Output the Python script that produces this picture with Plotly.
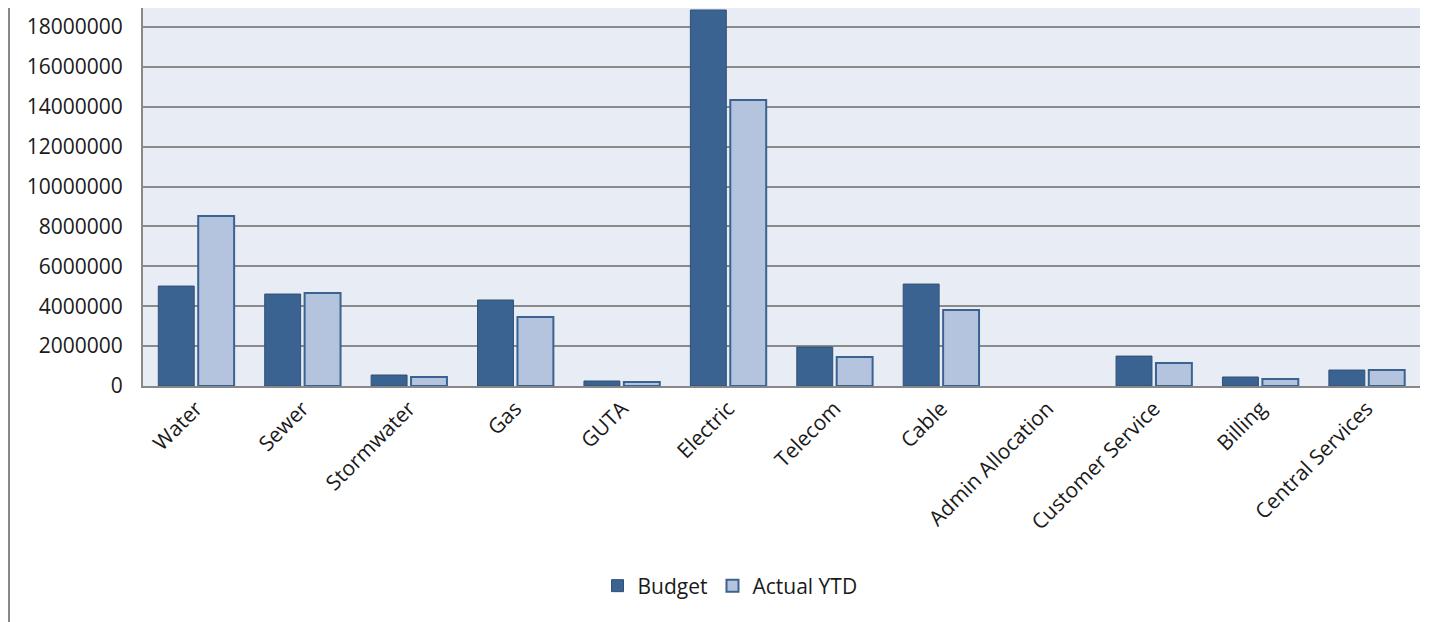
import plotly.graph_objects as go

categories = ["Water", "Sewer", "Stormwater", "Gas", "GUTA", "Electric", "Telecom",
              "Cable", "Admin Allocation", "Customer Service", "Billing", "Central Services"]
budget = [5010000, 4610000, 550000, 4310000, 250000, 18850000, 1950000,
          5110000, 0, 1500000, 450000, 800000]
actual_ytd = [8520000, 4660000, 450000, 3460000, 200000, 14340000, 1450000,
              3810000, 0, 1150000, 350000, 800000]
y_ticks = [0, 2000000, 4000000, 6000000, 8000000, 10000000, 12000000,
           14000000, 16000000, 18000000]

DARK = "#3B6392"
LIGHT = "#B5C4DE"
FONT = "Open Sans"

fig = go.Figure()
fig.add_trace(go.Bar(name="Budget", x=categories, y=budget,
                     marker=dict(color=DARK, line=dict(color="#2F5079",
                                 width=[0 if v == 0 else 1 for v in budget]))))
fig.add_trace(go.Bar(name="Actual YTD", x=categories, y=actual_ytd,
                     marker=dict(color=LIGHT, line=dict(color=DARK,
                                 width=[0 if v == 0 else 2 for v in actual_ytd]))))

plot_h = 378
plot_w = 1277
fig.update_layout(
    width=1442, height=622,
    margin=dict(l=135, r=30, t=0, b=244),
    paper_bgcolor="white", plot_bgcolor="#E8ECF4",
    barmode="group", bargap=0.25, bargroupgap=0.1,
    font=dict(family=FONT, size=21, color="#1a1a1a"),
    showlegend=True,
    legend=dict(orientation="h", x=(730 - 143) / plot_w, xanchor="center",
                y=(plot_h - 578) / plot_h,
                yanchor="middle", font=dict(size=21), traceorder="normal",
                itemwidth=30),
    shapes=[dict(type="line", xref="paper", yref="paper",
                 x0=-134 / plot_w, x1=-134 / plot_w, y0=-244 / plot_h, y1=1,
                 line=dict(color="#888888", width=2))],
)
fig.update_xaxes(tickangle=-45, showline=True, linecolor="#888888", linewidth=2,
                 showgrid=False, ticks="", tickfont=dict(size=21))
fig.update_yaxes(range=[0, 18950000], tickvals=y_ticks, ticktext=[str(v) for v in y_ticks],
                 showgrid=True, gridcolor="#8A8A8A", gridwidth=2,
                 showline=True, linecolor="#888888", linewidth=2, zeroline=False,
                 ticks="", ticklabelstandoff=14, tickfont=dict(size=21))

fig.write_html("out.html")
